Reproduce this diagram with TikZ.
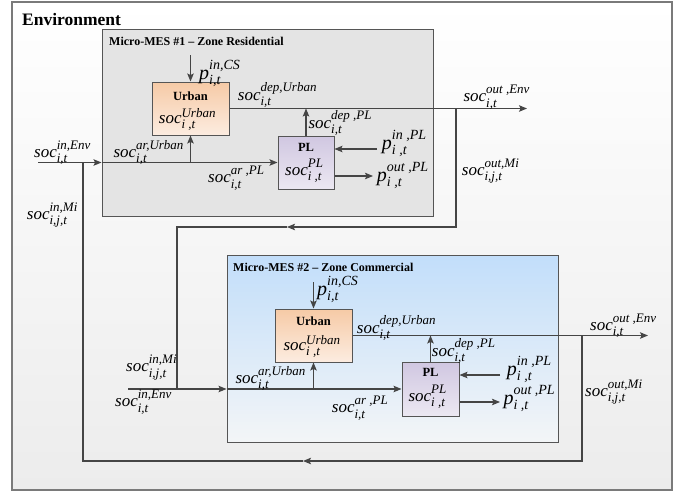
\documentclass[tikz,border=0pt]{standalone}
\usepackage{amsmath}
\usepackage{fontspec}
\setmainfont{Liberation Serif}
\usetikzlibrary{arrows.meta}
\DeclareMathSizes{17}{17}{13}{10}
\DeclareMathSizes{20}{20}{14}{10}
\definecolor{linec}{HTML}{454545}
\definecolor{boxc}{HTML}{555555}
\definecolor{outc}{HTML}{7A7A7A}
\newcommand\SOC[2]{{\fontsize{17}{20}\selectfont$\textit{soc}^{\textit{#1}}_{\textit{#2}}$}}
\newcommand\PV[2]{{\fontsize{20}{22}\selectfont$\textit{p}^{\textit{#1}}_{\textit{#2}}$}}
\tikzset{
  ln/.style={draw=linec, line width=1.1pt},
  arw/.style={ln, -{Stealth[length=8pt,width=6.5pt,inset=1.5pt]}},
  lab/.style={anchor=base west, inner sep=0pt},
  zone/.style={draw=boxc, line width=1pt, inner sep=0pt, minimum width=331pt, minimum height=187pt},
  unitbox/.style={draw=boxc, line width=1pt, inner sep=0pt},
  urb/.style={unitbox, top color={rgb,255:red,246;green,202;blue,166}, bottom color={rgb,255:red,252;green,236;blue,224}, minimum width=77pt, minimum height=53pt},
  plb/.style={unitbox, top color={rgb,255:red,208;green,199;blue,225}, bottom color={rgb,255:red,236;green,232;blue,242}, minimum width=56pt, minimum height=53pt},
  ttl/.style={anchor=base west, inner sep=0pt, font=\bfseries\fontsize{12}{14}\selectfont},
  bt/.style={anchor=base, inner sep=0pt, font=\bfseries\fontsize{12.5}{14}\selectfont},
}
\begin{document}
\begin{tikzpicture}[x=1pt,y=-1pt]
\useasboundingbox (0,0) rectangle (691,493);
% outer environment
\node[draw=outc, line width=1.5pt, top color=white, bottom color={rgb,255:red,236;green,236;blue,236}, minimum width=660pt, minimum height=488pt, inner sep=0pt] (env) at (342,246) {};
\node[anchor=base west, inner sep=0pt, font=\bfseries\fontsize{17.5}{20}\selectfont] (envt) at (22,25) {Environment};

% zones
\node[zone, fill={rgb,255:red,228;green,228;blue,228}] (m1) at (267.5,122.5) {};
\node[zone, top color={rgb,255:red,194;green,222;blue,250}, bottom color={rgb,255:red,243;green,245;blue,247}] (m2) at (392.5,348.5) {};
\node[ttl] (m1t) at (109,45) {Micro-MES \#1 -- Zone Residential};
\node[ttl] (m2t) at (233,271.5) {Micro-MES \#2 -- Zone Commercial};

% units
\node[urb] (U1) at (190.5,108.5) {};
\node[plb] (P1) at (306,162.5) {};
\node[urb] (U2) at (313.5,335.5) {};
\node[plb, minimum width=57pt, minimum height=54pt] (P2) at (430.5,389) {};
\node[bt] (U1t) at (190.5,100) {Urban};
\node[lab] (U1s) at (158.7,123.3) {\SOC{Urban}{i ,t}};
\node[bt] (P1t) at (306,151) {PL};
\node[lab] (P1s) at (285,175) {\SOC{\raisebox{1.5pt}{PL}}{\raisebox{-1pt}{i ,t}}};
\node[bt] (U2t) at (313.5,325) {Urban};
\node[lab] (U2s) at (283.3,350.7) {\SOC{Urban}{i ,t}};
\node[bt] (P2t) at (430.5,376) {PL};
\node[lab] (P2s) at (408.3,401) {\SOC{\raisebox{1.5pt}{PL}}{\raisebox{-1pt}{i ,t}}};

% free ends
\coordinate (in1) at (38,162.5);
\coordinate (cs1) at (190.5,55);
\coordinate (oe1) at (527,108.5);
\coordinate (pi1) at (377,149);
\coordinate (po1) at (373,176);
\coordinate (j1) at (456,108.5);
\coordinate (a1) at (287,227);
\coordinate (k1) at (177,227);
\coordinate (in2) at (128,389);
\coordinate (cs2) at (313.5,282);
\coordinate (oe2) at (648,335.5);
\coordinate (pi2) at (500,375);
\coordinate (po2) at (500,402);
\coordinate (j2) at (582,335.5);
\coordinate (a2) at (303,461);
\coordinate (k2) at (83,461);

% zone 1 connectors
\draw[arw] (in1) -- (m1.west |- in1);
\draw[arw] (m1.west |- in1) -- (P1.west);
\draw[arw] (U1.south |- in1) -- (U1.south);
\draw[arw] (cs1) -- (U1.north);
\draw[arw] (U1.east) -- (oe1);
\draw[arw] (P1.north) -- (P1.north |- U1.east);
\draw[arw] (pi1) -- (P1.east |- pi1);
\draw[arw] (P1.east |- po1) -- (po1);
% loop 1 -> zone 2
\draw[arw] (j1) |- (a1);
\draw[ln] (a1) -- (k1) -- (k1 |- in2);
% zone 2 connectors
\draw[arw] (in2) -- (m2.west |- in2);
\draw[arw] (m2.west |- in2) -- (P2.west);
\draw[arw] (U2.south |- in2) -- (U2.south);
\draw[arw] (cs2) -- (U2.north);
\draw[arw] (U2.east) -- (oe2);
\draw[arw] (P2.north) -- (P2.north |- U2.east);
\draw[arw] (pi2) -- (P2.east |- pi2);
\draw[arw] (P2.east |- po2) -- (po2);
% loop 2 -> zone 1
\draw[arw] (j2) |- (a2);
\draw[ln] (a2) -- (k2) -- (k2 |- in1);

% labels zone 1
\node[lab] (l1) at (34,157.5) {\SOC{in,Env}{i,t}};
\node[lab] (l2) at (26.7,219) {\SOC{in,Mi}{i,j,t}};
\node[lab] (l3) at (113.3,157) {\SOC{ar,Urban}{i,t}};
\node[lab] (l4) at (208,182.7) {\SOC{ar ,PL}{i,t}};
\node[lab] (l5) at (237.7,100) {\SOC{dep,Urban}{i,t}};
\node[lab] (l6) at (308.3,128.3) {\SOC{dep ,PL}{i,t}};
\node[lab] (l7) at (463.3,101.7) {\SOC{out ,Env}{i,t}};
\node[lab] (l8) at (461.7,175) {\SOC{out,Mi}{i,j,t}};
\node[lab] (l9) at (199,79) {\PV{in,CS}{i,t}};
\node[lab] (l10) at (381.7,149) {\PV{in ,PL}{i ,t}};
\node[lab] (l11) at (376.7,181) {\PV{out ,PL}{i ,t}};
% labels zone 2
\node[lab] (r1) at (115,406.7) {\SOC{in,Env}{i,t}};
\node[lab] (r2) at (126,371.7) {\SOC{in,Mi}{i,j,t}};
\node[lab] (r3) at (235.3,383.3) {\SOC{ar,Urban}{i,t}};
\node[lab] (r4) at (331.7,412.7) {\SOC{ar ,PL}{i,t}};
\node[lab] (r5) at (356.7,333.3) {\SOC{dep,Urban}{i,t}};
\node[lab] (r6) at (431.7,356) {\SOC{dep ,PL}{i,t}};
\node[lab] (r7) at (590,330) {\SOC{out ,Env}{i,t}};
\node[lab] (r8) at (585,396) {\SOC{out,Mi}{i,j,t}};
\node[lab] (r9) at (317,295) {\PV{in,CS}{i,t}};
\node[lab] (r10) at (506.7,375) {\PV{in ,PL}{i ,t}};
\node[lab] (r11) at (503.3,404) {\PV{out ,PL}{i ,t}};
\end{tikzpicture}
\end{document}
